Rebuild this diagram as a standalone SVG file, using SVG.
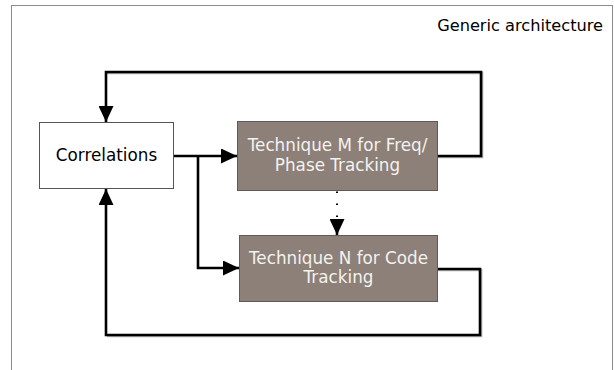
<svg xmlns="http://www.w3.org/2000/svg" width="615" height="370" viewBox="0 0 615 370">
<defs>
<style>
.frame{fill:#ffffff;stroke:#8a8a8a;stroke-width:1}
.light{fill:#ffffff;stroke:#555555;stroke-width:1}
.dark{fill:#8c8078;stroke:#5f5a56;stroke-width:1}
.t{font-family:"DejaVu Sans",Verdana,sans-serif;font-size:16.8px;text-anchor:middle}
.tw{fill:#f4f2f0}
.tb{fill:#000000}
.cap{font-family:"DejaVu Sans",Verdana,sans-serif;font-size:16.2px;fill:#000000;text-anchor:end}
.c{fill:none;stroke:#000000;stroke-width:2.6;stroke-linejoin:miter}
.sh{fill:none;stroke:#b0b0b0;stroke-width:2.6;stroke-linejoin:miter}
.dot{fill:none;stroke:#000000;stroke-width:2;stroke-dasharray:1.5 10.5}
</style>
<marker id="arr" markerUnits="userSpaceOnUse" markerWidth="16" markerHeight="15" refX="16" refY="7.5" orient="auto" viewBox="0 0 16 15">
<path d="M0,0 L16,7.5 L0,15 z" fill="#000000"/>
</marker>
</defs>
<rect x="0" y="0" width="615" height="370" fill="#ffffff"/>
<g id="frame">
<rect class="frame" x="11.5" y="5.5" width="601" height="380"/>
<text class="cap" x="603" y="31">Generic architecture</text>
</g>
<g id="connectors">
<path class="sh" d="M438,157 H482 V73 H107"/>
<path class="sh" d="M438,270 H481 V336 H107"/>
<path class="c" d="M173,156 H237" marker-end="url(#arr)"/>
<path class="c" d="M198,156 V268 H239" marker-end="url(#arr)"/>
<path class="c" d="M437,156 H481 V72 H106 V122" marker-end="url(#arr)"/>
<path class="c" d="M437,269 H480 V335 H106 V189" marker-end="url(#arr)"/>
<path class="dot" d="M337,191.5 V219"/>
<path class="c" d="M337,219 V235" stroke-width="0.1" marker-end="url(#arr)"/>
</g>
<g id="correlations">
<rect class="light" x="39.5" y="122.5" width="134" height="66"/>
<text class="t tb" x="106.5" y="161">Correlations</text>
</g>
<g id="techniqueM">
<rect class="dark" x="237.5" y="121.5" width="200" height="69"/>
<text class="t tw" x="337.5" y="151">Technique M for Freq/</text>
<text class="t tw" x="337.5" y="171">Phase Tracking</text>
</g>
<g id="techniqueN">
<rect class="dark" x="239.5" y="235.5" width="198" height="66"/>
<text class="t tw" x="338.5" y="264">Technique N for Code</text>
<text class="t tw" x="338.5" y="283">Tracking</text>
</g>
</svg>
